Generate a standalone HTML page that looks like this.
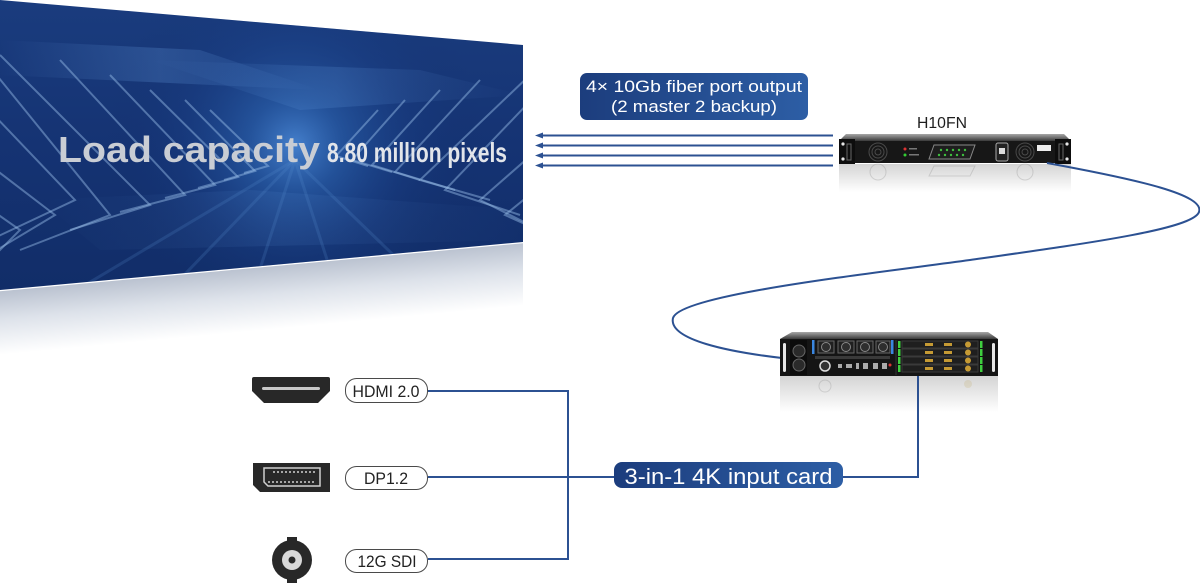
<!DOCTYPE html>
<html>
<head>
<meta charset="utf-8">
<style>
  html,body{margin:0;padding:0;background:#ffffff;}
  body{width:1200px;height:584px;overflow:hidden;}
  svg{display:block;}
  text{font-family:"Liberation Sans","DejaVu Sans",sans-serif;}
</style>
</head>
<body>
<svg width="1200" height="584" viewBox="0 0 1200 584" xmlns="http://www.w3.org/2000/svg">
  <defs>
    <clipPath id="scr"><polygon points="0,0 523,45 523,242 0,290"/></clipPath>
    <radialGradient id="glow" cx="295" cy="145" r="190" gradientUnits="userSpaceOnUse">
      <stop offset="0" stop-color="#4a88d6" stop-opacity="0.9"/>
      <stop offset="0.25" stop-color="#2d66b3" stop-opacity="0.6"/>
      <stop offset="0.6" stop-color="#1c4690" stop-opacity="0.25"/>
      <stop offset="1" stop-color="#0f2a63" stop-opacity="0"/>
    </radialGradient>
    <linearGradient id="scrbase" x1="0" y1="0" x2="0" y2="1">
      <stop offset="0" stop-color="#1a3c7e"/>
      <stop offset="0.5" stop-color="#153373"/>
      <stop offset="1" stop-color="#112d68"/>
    </linearGradient>
    <linearGradient id="refl" x1="261" y1="266" x2="267" y2="330" gradientUnits="userSpaceOnUse">
      <stop offset="0" stop-color="#b9c1cf"/>
      <stop offset="0.45" stop-color="#dde2ea"/>
      <stop offset="1" stop-color="#ffffff"/>
    </linearGradient>
    <linearGradient id="box" x1="0" y1="0" x2="1" y2="0">
      <stop offset="0" stop-color="#1c3d7d"/>
      <stop offset="1" stop-color="#2d5ea5"/>
    </linearGradient>
    <linearGradient id="top1" x1="0" y1="0" x2="0" y2="1">
      <stop offset="0" stop-color="#a8a8a8"/>
      <stop offset="1" stop-color="#3a3a3a"/>
    </linearGradient>
    <linearGradient id="devrefl" x1="0" y1="0" x2="0" y2="1">
      <stop offset="0" stop-color="#d4d4d4"/>
      <stop offset="1" stop-color="#ffffff"/>
    </linearGradient>
    <linearGradient id="beam" x1="0" y1="0" x2="1" y2="0">
      <stop offset="0" stop-color="#6aa2e6" stop-opacity="0"/>
      <stop offset="0.5" stop-color="#6aa2e6" stop-opacity="0.4"/>
      <stop offset="1" stop-color="#6aa2e6" stop-opacity="0"/>
    </linearGradient>
  </defs>

  <!-- ============ SCREEN ============ -->
  <polygon points="0,290 523,242 523,305 0,355" fill="url(#refl)"/>
  <line x1="0" y1="290.5" x2="523" y2="242.5" stroke="#ffffff" stroke-width="1.5"/>
  <g clip-path="url(#scr)">
    <rect x="0" y="0" width="523" height="290" fill="url(#scrbase)"/>
    <rect x="0" y="0" width="523" height="290" fill="url(#glow)"/>
    <!-- light beams -->
    <polygon points="0,40 200,50 320,90 0,75" fill="url(#beam)" opacity="0.6"/>
    <polygon points="150,60 420,70 523,95 300,110" fill="url(#beam)" opacity="0.45"/>
    <polygon points="40,200 250,190 523,210 523,240 100,250" fill="url(#beam)" opacity="0.25"/>
    <!-- left chevrons -->
    <g fill="none" stroke="#9cc0ea" stroke-opacity="0.45" stroke-width="2">
      <polyline points="-40,30 110,215 20,250"/>
      <polyline points="0,55 150,205 70,230"/>
      <polyline points="60,60 185,195 120,212"/>
      <polyline points="110,75 215,185 165,198"/>
      <polyline points="150,90 238,177 198,188"/>
      <polyline points="185,100 255,171 224,180"/>
      <polyline points="210,110 268,166 244,173"/>
      <polyline points="-30,150 55,215 -20,260"/>
      <polyline points="-30,195 20,230 -20,270"/>
      <polyline points="-30,90 75,200 -10,240"/>
    </g>
    <!-- right chevrons -->
    <g fill="none" stroke="#9cc0ea" stroke-opacity="0.45" stroke-width="2">
      <polyline points="560,70 445,190 520,215"/>
      <polyline points="530,75 420,180 490,200"/>
      <polyline points="480,80 395,172 455,190"/>
      <polyline points="440,90 372,165 420,180"/>
      <polyline points="405,100 352,160 392,172"/>
      <polyline points="378,110 336,156 368,166"/>
      <polyline points="560,130 480,200 540,230"/>
      <polyline points="560,170 505,215 560,240"/>
    </g>
    <!-- floor rays -->
    <g stroke="#5b8fd2" stroke-opacity="0.2" stroke-width="3">
      <line x1="295" y1="160" x2="60" y2="300"/>
      <line x1="295" y1="160" x2="160" y2="300"/>
      <line x1="295" y1="160" x2="250" y2="300"/>
      <line x1="295" y1="160" x2="340" y2="300"/>
      <line x1="295" y1="160" x2="440" y2="300"/>
    </g>
  </g>
  <text x="58" y="162" font-size="36" font-weight="bold" fill="#c9cdd4" textLength="262" lengthAdjust="spacingAndGlyphs">Load capacity</text>
  <text x="327" y="162" font-size="28" font-weight="bold" fill="#e2e5ea" textLength="180" lengthAdjust="spacingAndGlyphs">8.80 million pixels</text>

  <!-- ============ FIBER OUTPUT LABEL ============ -->
  <rect x="580" y="73" width="228" height="47" rx="7" fill="url(#box)"/>
  <text x="694" y="92" font-size="17" fill="#ffffff" text-anchor="middle" textLength="216" lengthAdjust="spacingAndGlyphs">4× 10Gb fiber port output</text>
  <text x="694" y="112" font-size="17" fill="#ffffff" text-anchor="middle" textLength="166" lengthAdjust="spacingAndGlyphs">(2 master 2 backup)</text>

  <!-- arrows -->
  <g stroke="#2c5192" stroke-width="2">
    <line x1="540" y1="135.5" x2="833" y2="135.5"/>
    <line x1="540" y1="145.5" x2="833" y2="145.5"/>
    <line x1="540" y1="155.5" x2="833" y2="155.5"/>
    <line x1="540" y1="165.5" x2="833" y2="165.5"/>
  </g>
  <g fill="#2c5192">
    <polygon points="535,135.5 543,132.5 543,138.5"/>
    <polygon points="535,145.5 543,142.5 543,148.5"/>
    <polygon points="535,155.5 543,152.5 543,158.5"/>
    <polygon points="535,165.5 543,162.5 543,168.5"/>
  </g>

  <!-- ============ H10FN ============ -->
  <text x="942" y="128" font-size="16" fill="#1e1e1e" text-anchor="middle" textLength="50" lengthAdjust="spacingAndGlyphs">H10FN</text>
  <rect x="839" y="164" width="232" height="28" fill="url(#devrefl)"/>
  <g opacity="0.18">
    <circle cx="878" cy="172" r="8" fill="none" stroke="#555"/>
    <circle cx="1025" cy="172" r="8" fill="none" stroke="#555"/>
    <polygon points="934,166 975,166 970,176 929,176" fill="none" stroke="#555"/>
  </g>
  <polygon points="846,134 1064,134 1071,141 839,141" fill="url(#top1)"/>
  <rect x="839" y="141" width="232" height="22" fill="#171717"/>
  <rect x="839" y="139" width="16" height="25" fill="#0d0d0d"/>
  <rect x="1055" y="139" width="16" height="25" fill="#0d0d0d"/>
  <rect x="847" y="144" width="4" height="16" fill="none" stroke="#666" stroke-width="1"/>
  <rect x="1059" y="144" width="4" height="16" fill="none" stroke="#666" stroke-width="1"/>
  <g fill="#e6e6e6">
    <circle cx="843" cy="144" r="1.6"/><circle cx="843" cy="159" r="1.6"/>
    <circle cx="1067" cy="144" r="1.6"/><circle cx="1067" cy="159" r="1.6"/>
  </g>
  <g fill="none" stroke="#4a4a4a">
    <circle cx="878" cy="152" r="9"/><circle cx="878" cy="152" r="6"/><circle cx="878" cy="152" r="3"/>
    <circle cx="1025" cy="152" r="9"/><circle cx="1025" cy="152" r="6"/><circle cx="1025" cy="152" r="3"/>
  </g>
  <circle cx="905" cy="149" r="1.5" fill="#d33"/>
  <circle cx="905" cy="155" r="1.5" fill="#3c3"/>
  <rect x="909" y="148" width="8" height="1.5" fill="#777"/>
  <rect x="909" y="154" width="10" height="1.5" fill="#777"/>
  <polygon points="934,145 975,145 970,159 929,159" fill="#1e1e1e" stroke="#888" stroke-width="1"/>
  <g fill="#3fbf3f">
    <circle cx="941" cy="150" r="1.2"/><circle cx="947" cy="150" r="1.2"/><circle cx="953" cy="150" r="1.2"/><circle cx="959" cy="150" r="1.2"/><circle cx="965" cy="150" r="1.2"/>
    <circle cx="939" cy="155" r="1.2"/><circle cx="945" cy="155" r="1.2"/><circle cx="951" cy="155" r="1.2"/><circle cx="957" cy="155" r="1.2"/><circle cx="963" cy="155" r="1.2"/>
  </g>
  <rect x="996" y="143" width="12" height="18" rx="2" fill="#222" stroke="#aaa" stroke-width="1"/>
  <rect x="999" y="148" width="6" height="6" fill="#ddd"/>
  <rect x="1037" y="145" width="14" height="6" fill="#eeeeee"/>

  <!-- ============ cable ============ -->
  <path d="M1047,163 C1140,180 1205,195 1199,212 C1193,229 1090,243 970,260 C860,275 680,295 673,318 C668,340 730,352 782,358" fill="none" stroke="#2c5192" stroke-width="2"/>

  <!-- ============ INPUT DEVICE ============ -->
  <rect x="780" y="376" width="218" height="36" fill="url(#devrefl)"/>
  <g opacity="0.15">
    <circle cx="825" cy="386" r="6" fill="none" stroke="#444"/>
    <circle cx="968" cy="384" r="4" fill="#b8942c"/>
  </g>
  <polygon points="792,332 988,332 998,339 780,339" fill="url(#top1)"/>
  <rect x="780" y="339" width="218" height="37" fill="#151515"/>
  <rect x="783" y="343" width="3" height="29" rx="1.5" fill="#e8e8e8"/>
  <rect x="992" y="343" width="3" height="29" rx="1.5" fill="#e8e8e8"/>
  <rect x="790" y="340" width="17" height="35" fill="#0c0c0c"/>
  <circle cx="799" cy="351" r="6" fill="#2a2a2a" stroke="#666"/>
  <circle cx="799" cy="365" r="6" fill="#2a2a2a" stroke="#666"/>
  <rect x="812" y="340" width="2.5" height="14" fill="#3a86e0"/>
  <rect x="891" y="340" width="2.5" height="14" fill="#3a86e0"/>
  <g fill="#202020" stroke="#666" stroke-width="1">
    <rect x="818" y="341" width="16" height="12"/><rect x="838" y="341" width="16" height="12"/>
    <rect x="857" y="341" width="16" height="12"/><rect x="876" y="341" width="14" height="12"/>
  </g>
  <g fill="#2e2e2e" stroke="#888" stroke-width="1">
    <circle cx="826" cy="347" r="4.5"/><circle cx="846" cy="347" r="4.5"/>
    <circle cx="865" cy="347" r="4.5"/><circle cx="883" cy="347" r="4.5"/>
  </g>
  <rect x="815" y="356" width="75" height="3" fill="#3a3a3a"/>
  <circle cx="825" cy="366" r="5" fill="#333" stroke="#ddd" stroke-width="1.5"/>
  <g fill="#aaa">
    <rect x="838" y="364" width="4" height="4"/><rect x="846" y="364" width="6" height="4"/>
    <rect x="856" y="363" width="3" height="6"/><rect x="863" y="363" width="5" height="6"/>
    <rect x="873" y="363" width="5" height="6"/><rect x="882" y="363" width="5" height="6"/>
  </g>
  <circle cx="890" cy="365" r="1.5" fill="#d33"/>
  <line x1="896" y1="340" x2="896" y2="375" stroke="#333"/>
  <g fill="#1f1f1f" stroke="#3a3a3a" stroke-width="1">
    <rect x="902" y="341" width="76" height="7"/><rect x="902" y="349" width="76" height="7"/>
    <rect x="902" y="357" width="76" height="7"/><rect x="902" y="365" width="76" height="7"/>
  </g>
  <g fill="#3fcf3f">
    <rect x="898" y="341" width="2.5" height="7"/><rect x="898" y="349" width="2.5" height="7"/>
    <rect x="898" y="357" width="2.5" height="7"/><rect x="898" y="365" width="2.5" height="7"/>
    <rect x="980" y="341" width="2.5" height="7"/><rect x="980" y="349" width="2.5" height="7"/>
    <rect x="980" y="357" width="2.5" height="7"/><rect x="980" y="365" width="2.5" height="7"/>
  </g>
  <g fill="#c59a34">
    <rect x="925" y="343" width="8" height="3"/><rect x="944" y="343" width="8" height="3"/>
    <rect x="925" y="351" width="8" height="3"/><rect x="944" y="351" width="8" height="3"/>
    <rect x="925" y="359" width="8" height="3"/><rect x="944" y="359" width="8" height="3"/>
    <rect x="925" y="367" width="8" height="3"/><rect x="944" y="367" width="8" height="3"/>
    <circle cx="968" cy="344.5" r="3"/><circle cx="968" cy="352.5" r="3"/>
    <circle cx="968" cy="360.5" r="3"/><circle cx="968" cy="368.5" r="3"/>
  </g>

  <!-- ============ bottom connectors ============ -->
  <g fill="none" stroke="#2c5192" stroke-width="2">
    <polyline points="918,376 918,477 843,477"/>
    <line x1="428" y1="477" x2="614" y2="477"/>
    <polyline points="428,391 568,391 568,559 428,559"/>
  </g>
  <rect x="614" y="462" width="229" height="26" rx="8" fill="url(#box)"/>
  <text x="728.5" y="484" font-size="22" fill="#ffffff" text-anchor="middle" textLength="208" lengthAdjust="spacingAndGlyphs">3-in-1 4K input card</text>

  <!-- pills -->
  <g fill="#ffffff" stroke="#4a4a4a" stroke-width="1">
    <rect x="345.5" y="378.5" width="82" height="24" rx="11"/>
    <rect x="345.5" y="466.5" width="82" height="23" rx="11"/>
    <rect x="345.5" y="549.5" width="82" height="23" rx="11"/>
  </g>
  <g font-size="17" fill="#222" text-anchor="middle">
    <text x="386" y="397" textLength="67" lengthAdjust="spacingAndGlyphs">HDMI 2.0</text>
    <text x="386" y="484" textLength="44" lengthAdjust="spacingAndGlyphs">DP1.2</text>
    <text x="387" y="567" textLength="59" lengthAdjust="spacingAndGlyphs">12G SDI</text>
  </g>

  <!-- HDMI icon -->
  <path d="M254,377 H328 Q330,377 330,379 V391 L318,403 H264 L252,391 V379 Q252,377 254,377 Z" fill="#282828"/>
  <rect x="262" y="387" width="58" height="3" rx="1.5" fill="#c8c8c8"/>
  <!-- DP icon -->
  <path d="M253,463 H330 V492 H260 L253,485 Z" fill="#282828"/>
  <path d="M264,468 H320 V486 H268 L264,482 Z" fill="none" stroke="#d0d0d0" stroke-width="1.5"/>
  <line x1="273" y1="472" x2="316" y2="472" stroke="#cfcfcf" stroke-width="1.5" stroke-dasharray="2 2"/>
  <line x1="268" y1="482" x2="316" y2="482" stroke="#cfcfcf" stroke-width="1.5" stroke-dasharray="2 2"/>
  <!-- SDI icon -->
  <rect x="287" y="537" width="10" height="6" fill="#282828"/>
  <rect x="287" y="577" width="10" height="6" fill="#282828"/>
  <circle cx="292" cy="560" r="20" fill="#282828"/>
  <circle cx="292" cy="560" r="10" fill="#d8d8d8"/>
  <circle cx="292" cy="560" r="3.5" fill="#282828"/>
</svg>
</body>
</html>
